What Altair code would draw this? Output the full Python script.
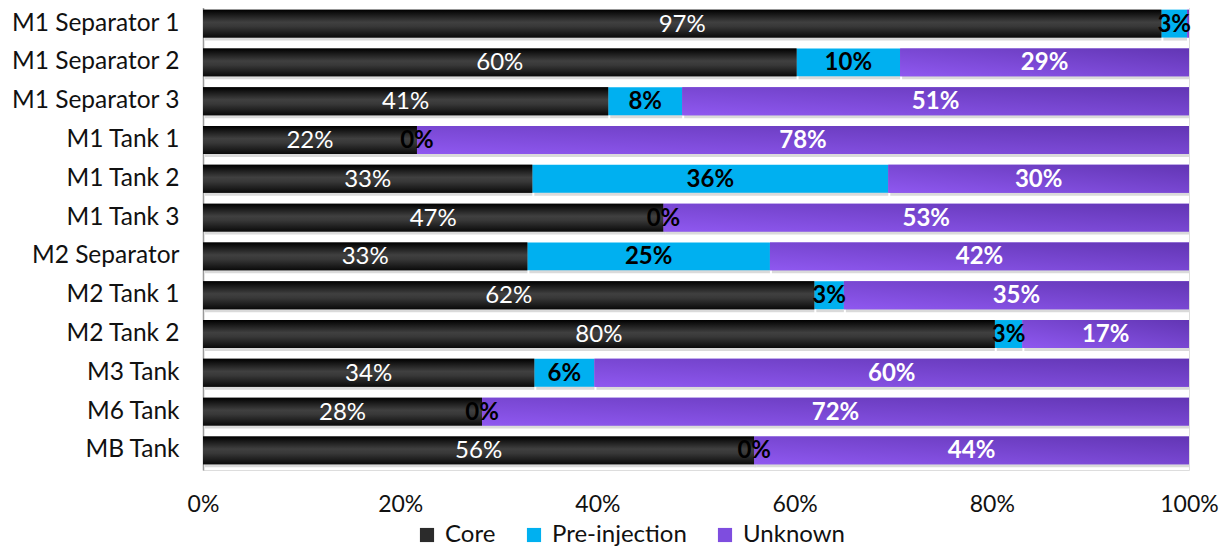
import altair as alt
import pandas as pd

categories = ["M1 Separator 1", "M1 Separator 2", "M1 Separator 3", "M1 Tank 1",
              "M1 Tank 2", "M1 Tank 3", "M2 Separator", "M2 Tank 1", "M2 Tank 2",
              "M3 Tank", "M6 Tank", "MB Tank"]
series = ["Core", "Pre-injection", "Unknown"]
core = [97.2, 60.2, 41.1, 21.7, 33.4, 46.7, 32.9, 62.0, 80.3, 33.6, 28.3, 55.9]
pre = [2.6, 10.5, 7.5, 0.0, 36.1, 0.0, 24.6, 3.0, 2.8, 6.1, 0.0, 0.0]
unknown = [0.2, 29.3, 51.4, 78.3, 30.5, 53.3, 42.5, 35.0, 16.9, 60.3, 71.7, 44.1]
core_labels = ["97%", "60%", "41%", "22%", "33%", "47%", "33%", "62%", "80%", "34%", "28%", "56%"]
pre_labels = ["3%", "10%", "8%", "0%", "36%", "0%", "25%", "3%", "3%", "6%", "0%", "0%"]
unknown_labels = ["", "29%", "51%", "78%", "30%", "53%", "42%", "35%", "17%", "60%", "72%", "44%"]
x_ticks = [0, 20, 40, 60, 80, 100]

rows = []
for i, c in enumerate(categories):
    for j, (s, vals, labs) in enumerate(zip(series, [core, pre, unknown],
                                            [core_labels, pre_labels, unknown_labels])):
        rows.append({"cat": c, "series": s, "order": j, "value": vals[i], "label": labs[i]})
df = pd.DataFrame(rows)

FONT = "Lato"
AX = 24.5
LB = 24

base = alt.Chart(df).transform_stack(
    stack="value", groupby=["cat"], sort=[alt.SortField("order")], as_=["v0", "v1"]
).transform_calculate(mid="(datum.v0 + datum.v1) / 2")

xenc = alt.X("v0:Q", scale=alt.Scale(domain=[0, 100], nice=False),
             axis=alt.Axis(values=x_ticks, labelExpr="datum.value + '%'", title=None,
                           domain=False, ticks=False, grid=False, labelFontSize=23,
                           labelFont=FONT, labelColor="#111", labelPadding=23,
                           labelFlush=False))
yenc = alt.Y("cat:N", sort=categories,
             scale=alt.Scale(paddingInner=0.28, paddingOuter=0.145),
             axis=alt.Axis(title=None, ticks=False, domainColor="#999", domainWidth=1.5,
                           labelFontSize=AX, labelFont=FONT, labelColor="#111",
                           labelPadding=24, minExtent=195, maxExtent=195))

shadow = base.mark_bar(color="#bbbbbb", opacity=0.55, yOffset=3, xOffset=2).encode(
    x=xenc, x2="v1:Q", y=yenc)

bars = base.mark_bar().encode(
    x=xenc, x2="v1:Q", y=yenc,
    color=alt.Color("series:N", sort=series,
                    scale=alt.Scale(domain=series, range=["#2b2b2b", "#00B0F0", "#7E4DDF"]),
                    legend=alt.Legend(title=None, orient="none", direction="horizontal",
                                      legendX=212, legendY=519, symbolType="square",
                                      symbolSize=200, symbolStrokeWidth=0,
                                      labelFontSize=LB, labelFont=FONT, labelColor="#111",
                                      columnPadding=26, labelOffset=6)))

core_grad = {"gradient": "linear", "x1": 0, "y1": 0, "x2": 0, "y2": 1,
             "stops": [{"offset": 0, "color": "#000000"},
                       {"offset": 0.45, "color": "#404040"},
                       {"offset": 0.6, "color": "#383838"},
                       {"offset": 1, "color": "#0a0a0a"}]}
unk_grad = {"gradient": "linear", "x1": 0, "y1": 1, "x2": 1, "y2": 0,
            "stops": [{"offset": 0, "color": "#8F58F0"},
                      {"offset": 1, "color": "#6236B4"}]}

core_bars = base.transform_filter("datum.series == 'Core'").mark_bar(
    color=core_grad).encode(x=xenc, x2="v1:Q", y=yenc)
unk_bars = base.transform_filter("datum.series == 'Unknown'").mark_bar(
    color=unk_grad).encode(x=xenc, x2="v1:Q", y=yenc)

txt_core = base.transform_filter("datum.series == 'Core'").mark_text(
    color="white", fontSize=LB, font=FONT, baseline="middle", dy=1).encode(
    x="mid:Q", y=yenc, text="label:N")
txt_pre = base.transform_filter("datum.series == 'Pre-injection'").mark_text(
    color="black", fontSize=LB, font=FONT, fontWeight="bold", baseline="middle", dy=1).encode(
    x="mid:Q", y=yenc, text="label:N")
txt_unk = base.transform_filter("datum.series == 'Unknown'").mark_text(
    color="white", fontSize=LB, font=FONT, fontWeight="bold", baseline="middle", dy=1).encode(
    x="mid:Q", y=yenc, text="label:N")

chart = alt.layer(shadow, bars, core_bars, unk_bars, txt_core, txt_pre, txt_unk).properties(
    width=986, height=466, padding={"top": -4, "left": 0, "right": 0, "bottom": 2}
).configure_view(stroke=None).configure(background="white")

chart.save("out.html", embed_options={"renderer": "svg", "actions": False})
